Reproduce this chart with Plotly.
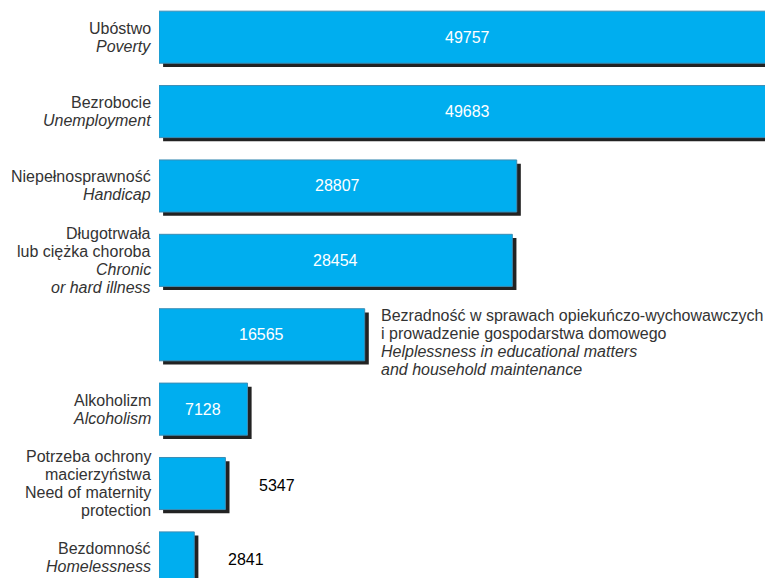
import plotly.graph_objects as go

# Clients of social assistance by reason for granting support
labels = [
    ["Ubóstwo", "<i>Poverty</i>"],
    ["Bezrobocie", "<i>Unemployment</i>"],
    ["Niepełnosprawność", "<i>Handicap</i>"],
    ["Długotrwała", "lub ciężka choroba", "<i>Chronic</i>", "<i>or hard illness</i>"],
    ["Bezradność w sprawach opiekuńczo-wychowawczych",
     "i prowadzenie gospodarstwa domowego",
     "<i>Helplessness in educational matters</i>",
     "<i>and household maintenance</i>"],
    ["Alkoholizm", "<i>Alcoholism</i>"],
    ["Potrzeba ochrony", "macierzyństwa", "Need of maternity", "protection"],
    ["Bezdomność", "<i>Homelessness</i>"],
]
values = [49757, 49683, 28807, 28454, 16565, 7128, 5347, 2841]
# which category's label sits to the right of its bar
label_right = [False, False, False, False, True, False, False, False]

BAR_COLOR = "#00AEEF"
SHADOW = "#222222"
FONT = "Liberation Sans, Arial, sans-serif"
LINE_H = 18  # px between text lines

pos = list(range(len(values)))
bar_w = 0.70

fig = go.Figure()

# drop shadow: same bars, nudged right and down
fig.add_trace(go.Bar(
    y=pos, x=values, base=330, orientation="h",
    width=bar_w, offset=-bar_w / 2 + 0.05,
    marker=dict(color=SHADOW, line=dict(width=0)),
    hoverinfo="skip", showlegend=False,
))
fig.add_trace(go.Bar(
    y=pos, x=values, orientation="h",
    width=bar_w, offset=-bar_w / 2,
    marker=dict(color=BAR_COLOR, line=dict(color="#3b8db5", width=1)),
    showlegend=False,
))

annotations = []
for i, (lines, v, right) in enumerate(zip(labels, values, label_right)):
    n = len(lines)
    for k, line in enumerate(lines):
        dy = -(k - (n - 1) / 2) * LINE_H
        if right:
            annotations.append(dict(
                x=v, y=i, xref="x", yref="y", text=line, showarrow=False,
                xanchor="left", yanchor="middle", xshift=14, yshift=dy - 8,
                font=dict(family=FONT, size=16, color="#333333"),
            ))
        else:
            annotations.append(dict(
                x=0, y=i, xref="x", yref="y", text=line, showarrow=False,
                xanchor="right", yanchor="middle", xshift=-6, yshift=dy,
                font=dict(family=FONT, size=16, color="#333333"),
            ))
    if v > 6000:
        annotations.append(dict(
            x=v / 2, y=i, xref="x", yref="y", text=str(v), showarrow=False,
            xanchor="center", yanchor="middle",
            font=dict(family=FONT, size=16, color="white"),
        ))
    else:
        annotations.append(dict(
            x=v, y=i, xref="x", yref="y", text=str(v), showarrow=False,
            xanchor="left", yanchor="middle", xshift=32, yshift=-2,
            font=dict(family=FONT, size=16, color="#000000"),
        ))

fig.update_layout(
    width=765, height=578,
    margin=dict(l=159, r=0, t=0, b=0),
    paper_bgcolor="white", plot_bgcolor="white",
    barmode="overlay",
    xaxis=dict(range=[0, 48800], visible=False, fixedrange=True),
    yaxis=dict(range=[7.27, -0.5], visible=False, fixedrange=True),
    annotations=annotations,
)

fig.write_html("out.html")
